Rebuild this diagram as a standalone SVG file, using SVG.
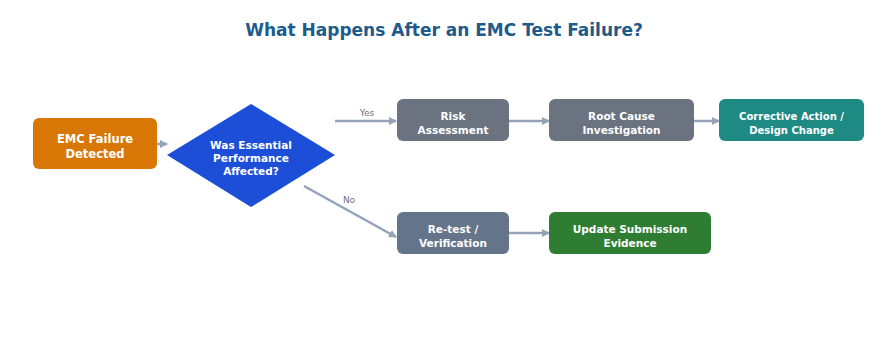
<svg xmlns="http://www.w3.org/2000/svg" width="888" height="338" viewBox="0 0 888 338">
<style>
.t{font-family:"DejaVu Sans",sans-serif;font-weight:bold;fill:#fff;text-anchor:middle}
.n{font-size:11.5px}
.s{font-size:10.5px}
.lbl{font-family:"DejaVu Sans",sans-serif;font-size:9px;fill:#6b7280;text-anchor:middle}
.c{stroke:#94a3b8;stroke-width:2.5;fill:none;marker-end:url(#ah)}
</style>
<defs>
<marker id="ah" markerWidth="8" markerHeight="8" refX="7" refY="4" orient="auto" markerUnits="userSpaceOnUse">
<path d="M0,0 L8,4 L0,8 Z" fill="#94a3b8"/>
</marker>
</defs>
<rect width="888" height="338" fill="#fff"/>
<text x="444" y="36" font-family="'DejaVu Sans',sans-serif" font-weight="bold" font-size="17" fill="#1e5a8a" text-anchor="middle">What Happens After an EMC Test Failure?</text>
<g id="connectors">
<line class="c" x1="157" y1="144" x2="167" y2="144"/>
<line class="c" x1="335" y1="121" x2="396" y2="121"/>
<text class="lbl" x="367" y="116">Yes</text>
<line class="c" x1="509" y1="121" x2="549" y2="121"/>
<line class="c" x1="694" y1="121" x2="719" y2="121"/>
<line class="c" x1="304" y1="186" x2="396" y2="237"/>
<text class="lbl" x="349" y="203">No</text>
<line class="c" x1="509" y1="233" x2="549" y2="233"/>
</g>
<g id="emc">
<rect x="33" y="118" width="124" height="51" rx="6" fill="#d97706"/>
<text class="t n" x="95" y="143">EMC Failure</text>
<text class="t n" x="95" y="158">Detected</text>
</g>
<g id="decision">
<polygon points="251,104 335,155 251,207 167,155" fill="#1d4ed8"/>
<text class="t s" x="251" y="149">Was Essential</text>
<text class="t s" x="251" y="162">Performance</text>
<text class="t s" x="251" y="175">Affected?</text>
</g>
<g id="risk">
<rect x="397" y="99" width="112" height="42" rx="6" fill="#6b7280"/>
<text class="t s" x="453" y="120">Risk</text>
<text class="t s" x="453" y="134">Assessment</text>
</g>
<g id="root">
<rect x="549" y="99" width="145" height="42" rx="6" fill="#6b7280"/>
<text class="t s" x="621.5" y="120">Root Cause</text>
<text class="t s" x="621.5" y="134">Investigation</text>
</g>
<g id="corrective">
<rect x="719" y="99" width="145" height="42" rx="6" fill="#1f8a84"/>
<text class="t" font-size="10" x="791.5" y="119.5">Corrective Action /</text>
<text class="t" font-size="10" x="791.5" y="133.5">Design Change</text>
</g>
<g id="retest">
<rect x="397" y="212" width="112" height="42" rx="6" fill="#64748b"/>
<text class="t s" x="453" y="233">Re-test /</text>
<text class="t s" x="453" y="247">Verification</text>
</g>
<g id="update">
<rect x="549" y="212" width="162" height="42" rx="6" fill="#2e7d32"/>
<text class="t s" x="630" y="233">Update Submission</text>
<text class="t s" x="630" y="247">Evidence</text>
</g>
</svg>
